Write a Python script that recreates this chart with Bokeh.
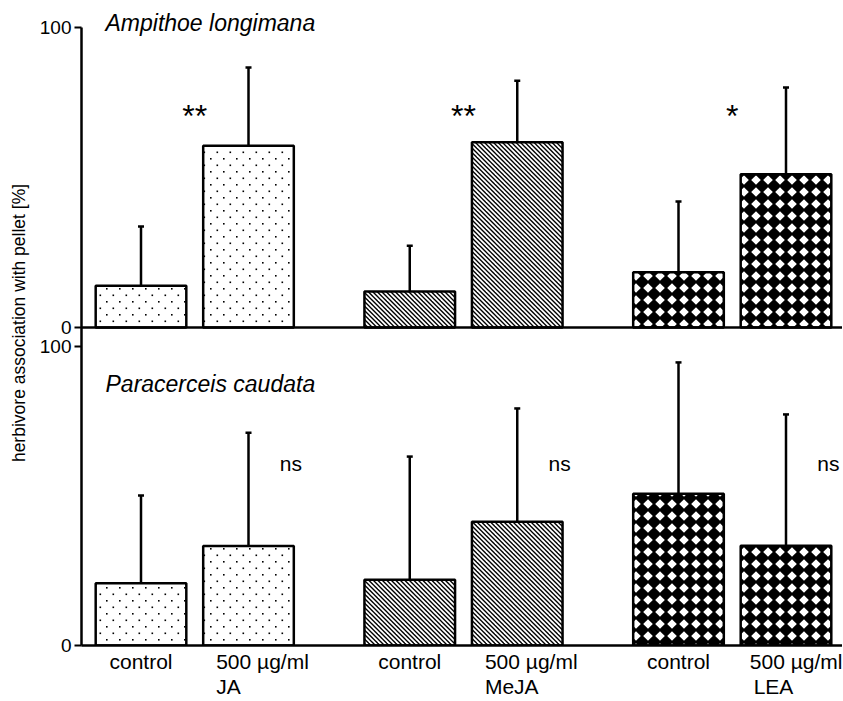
import base64
from bokeh.plotting import figure
from bokeh.models import (Range1d, FixedTicker, CustomJSTickFormatter, Span, Whisker,
                          TeeHead, ColumnDataSource, ImageURLTexture, Label, LinearAxis)
from bokeh.core.properties import value
from bokeh.embed import file_html
from bokeh.resources import INLINE

# ---------------- data ----------------
treatments = ["JA", "MeJA", "LEA"]
condition_labels = ["control", "500 µg/ml", "control", "500 µg/ml", "control", "500 µg/ml"]
ampithoe_mean = [13.9, 60.6, 12.0, 61.8, 18.4, 51.1]
ampithoe_sd = [19.8, 26.1, 15.3, 20.5, 23.6, 28.9]
paracerceis_mean = [20.8, 33.3, 22.0, 41.4, 50.8, 33.4]
paracerceis_sd = [29.4, 37.9, 41.2, 37.9, 43.9, 43.9]
panel_titles = ["Ampithoe longimana", "Paracerceis caudata"]
ampithoe_sig = ["**", "**", "*"]
paracerceis_sig = ["ns", "ns", "ns"]
y_ticks = [0, 100]
y_label = "herbivore association with pellet [%]"

# ---------------- layout / style ----------------
W, H = 842, 700
LEFT = 81
FRAME_W = W - LEFT
STEP = 107.5            # px per x unit
X0_PX = 59.5            # first bar centre from frame left
BAR_W = 0.843
FRAME_TOP = 0.0
TOP100, TOP0, BOT100, BOT0 = 27.0, 326.0, 345.0, 643.0
PX_TOP = (TOP0 - TOP100) / 100
PX_BOT = (BOT0 - BOT100) / 100
YLABEL_CENTRE_PX = 346.0
LABEL_INSET_PX = 13.0
COND_HALF_W_PX = [0, 46.3]
TREAT_HALF_W_PX = [12.3, 26.8, 19.8]
FONT = "Liberation Sans"

pos = [g * 2.5 + m for g in range(3) for m in range(2)]
half_bar_px = BAR_W * STEP / 2
cond_tick = []
for i, x in enumerate(pos):
    if i % 2 == 0:
        cond_tick.append(x)
    else:
        cond_tick.append(x + (-half_bar_px + LABEL_INSET_PX + COND_HALF_W_PX[1]) / STEP)
treat_tick = [pos[2 * g + 1] + (-half_bar_px + LABEL_INSET_PX + TREAT_HALF_W_PX[g]) / STEP
              for g in range(3)]

xr = Range1d(-X0_PX / STEP, -X0_PX / STEP + FRAME_W / STEP)
yr = Range1d(0, (BOT0 - FRAME_TOP) / PX_BOT)
top_r = Range1d(-(BOT0 - TOP0) / PX_TOP, (TOP0 - FRAME_TOP) / PX_TOP)

def top_to_default(v):
    frac = (v - top_r.start) / (top_r.end - top_r.start)
    return yr.start + frac * (yr.end - yr.start)

def top_val(px):
    return (TOP0 - px) / PX_TOP

def bot_val(px):
    return (BOT0 - px) / PX_BOT

def x_val(px):
    return xr.start + (px - LEFT) / STEP

p = figure(width=W, height=H, x_range=xr, y_range=yr, output_backend="svg",
           toolbar_location=None, min_border_left=LEFT, min_border_right=0,
           min_border_top=0, min_border_bottom=0)
p.extra_y_ranges = {"top": top_r}
p.outline_line_color = None
p.xgrid.grid_line_color = None
p.ygrid.grid_line_color = None
p.background_fill_color = "white"
p.border_fill_color = "white"

NEAREST_JS = """
let best = 0;
for (let i = 0; i < pos.length; i++) {
  if (Math.abs(pos[i] - tick) < Math.abs(pos[best] - tick)) best = i;
}
return labels[best];
"""

def style_x(ax, standoff):
    ax.major_tick_out = 0
    ax.major_tick_in = 0
    ax.minor_tick_out = 0
    ax.minor_tick_in = 0
    ax.major_label_text_font = FONT
    ax.major_label_text_font_size = "21px"
    ax.major_label_text_color = "black"
    ax.major_label_standoff = standoff

xa = p.xaxis[0]
xa.ticker = FixedTicker(ticks=cond_tick, minor_ticks=[])
xa.formatter = CustomJSTickFormatter(args=dict(pos=cond_tick, labels=condition_labels),
                                     code=NEAREST_JS)
xa.axis_line_width = 2.5
xa.axis_line_color = "black"
style_x(xa, 4)

xa2 = LinearAxis(ticker=FixedTicker(ticks=treat_tick, minor_ticks=[]),
                 formatter=CustomJSTickFormatter(args=dict(pos=treat_tick, labels=treatments),
                                                 code=NEAREST_JS),
                 axis_line_color=None)
style_x(xa2, -1)
p.add_layout(xa2, "below")

ytick_vals = [float(t) for t in y_ticks] + [top_to_default(t) for t in y_ticks]
ytick_txt = [str(t) for t in y_ticks] * 2
ya = p.yaxis[0]
ya.ticker = FixedTicker(ticks=ytick_vals, minor_ticks=[])
ya.formatter = CustomJSTickFormatter(args=dict(pos=ytick_vals, labels=ytick_txt), code=NEAREST_JS)
ya.bounds = (0, top_to_default(100))
ya.major_tick_out = 7
ya.major_tick_in = 0
ya.major_tick_line_width = 2
ya.minor_tick_out = 0
ya.minor_tick_in = 0
ya.axis_line_width = 2.5
ya.axis_line_color = "black"
ya.major_label_text_font = FONT
ya.major_label_text_font_size = "19px"
ya.major_label_text_color = "black"
ya.major_label_standoff = 3

# shared y-axis title spanning both panels: a line-less, tick-less axis centred at the junction
yc = bot_val(YLABEL_CENTRE_PX)
ylab_axis = LinearAxis(ticker=FixedTicker(ticks=[], minor_ticks=[]), bounds=(yc - 50, yc + 50),
                       axis_line_color=None, major_tick_line_color=None,
                       minor_tick_line_color=None, major_tick_out=0, major_tick_in=0,
                       minor_tick_out=0, minor_tick_in=0, major_label_standoff=0,
                       axis_label=y_label, axis_label_standoff=8,
                       axis_label_text_font=FONT, axis_label_text_font_size="17.5px",
                       axis_label_text_font_style="normal", axis_label_text_color="black")
p.add_layout(ylab_axis, "left")

p.add_layout(Span(location=0, dimension="width", y_range_name="top",
                  line_color="black", line_width=2.5))

# hatch textures
def svg_url(body, size):
    svg = (f"<svg xmlns='http://www.w3.org/2000/svg' width='{size}' height='{size}'>"
           f"{body}</svg>")
    return "data:image/svg+xml;base64," + base64.b64encode(svg.encode()).decode()

dot_body = ("<rect x='2' y='2' width='1.6' height='1.6' fill='black'/>"
            "<rect x='8.5' y='8.5' width='1.6' height='1.6' fill='black'/>")
line_body = "".join(
    f"<line x1='-2' y1='{-2 + 4.5 * k}' x2='11' y2='{11 + 4.5 * k}' stroke='black' stroke-width='1.35'/>"
    for k in range(-3, 4))
diamond_body = "<polygon points='6,-1.2 13.2,6 6,13.2 -1.2,6' fill='black'/>"

HATCH = [
    dict(hatch_pattern=dict(value="dotgrid"),
         hatch_extra={"dotgrid": ImageURLTexture(url=svg_url(dot_body, 13))}),
    dict(hatch_pattern=dict(value="diag"),
         hatch_extra={"diag": ImageURLTexture(url=svg_url(line_body, 9))}),
    dict(hatch_pattern=dict(value="diamonds"),
         hatch_extra={"diamonds": ImageURLTexture(url=svg_url(diamond_body, 12))}),
]

def panel(means, sds, rname):
    kw = {} if rname is None else {"y_range_name": rname}
    for g in range(3):
        idx = [2 * g, 2 * g + 1]
        src = ColumnDataSource(dict(x=[pos[i] for i in idx], top=[means[i] for i in idx]))
        p.vbar(x="x", top="top", bottom=0, width=BAR_W, source=src,
               fill_color="white", line_color="black", line_width=2.5,
               hatch_color="black", **HATCH[g], **kw)
    wsrc = ColumnDataSource(dict(x=pos, top=means,
                                 upper=[m + s for m, s in zip(means, sds)]))
    wk = Whisker(base="x", lower="top", upper="upper", source=wsrc, dimension="height",
                 line_color="black", line_width=2.5,
                 upper_head=TeeHead(size=6, line_width=2.5, line_color="black"),
                 lower_head=None, **kw)
    p.add_layout(wk)

panel(ampithoe_mean, ampithoe_sd, "top")
panel(paracerceis_mean, paracerceis_sd, None)

grp_centre = [(pos[2 * g] + pos[2 * g + 1]) / 2 for g in range(3)]
sig_top = ColumnDataSource(dict(x=grp_centre, y=[top_val(115)] * 3, t=ampithoe_sig))
p.text(x="x", y="y", text="t", source=sig_top, y_range_name="top",
       text_font=value(FONT), text_font_size="32px", text_align="center",
       text_baseline="middle", text_color="black")
ns_x = [pos[2 * g + 1] + BAR_W / 2 - 3.0 / STEP for g in range(3)]
sig_bot = ColumnDataSource(dict(x=ns_x, y=[bot_val(462)] * 3, t=paracerceis_sig))
p.text(x="x", y="y", text="t", source=sig_bot,
       text_font=value(FONT), text_font_size="21px", text_align="center",
       text_baseline="middle", text_color="black")

title_x = x_val(105)
p.add_layout(Label(x=title_x, y=top_val(22), y_range_name="top", text=panel_titles[0],
                   text_font=FONT, text_font_size="23px", text_font_style="italic",
                   text_baseline="middle", text_align="left", text_color="black"))
p.add_layout(Label(x=title_x, y=bot_val(382), text=panel_titles[1],
                   text_font=FONT, text_font_size="23px", text_font_style="italic",
                   text_baseline="middle", text_align="left", text_color="black"))

open("out.html", "w").write(file_html(p, INLINE))
